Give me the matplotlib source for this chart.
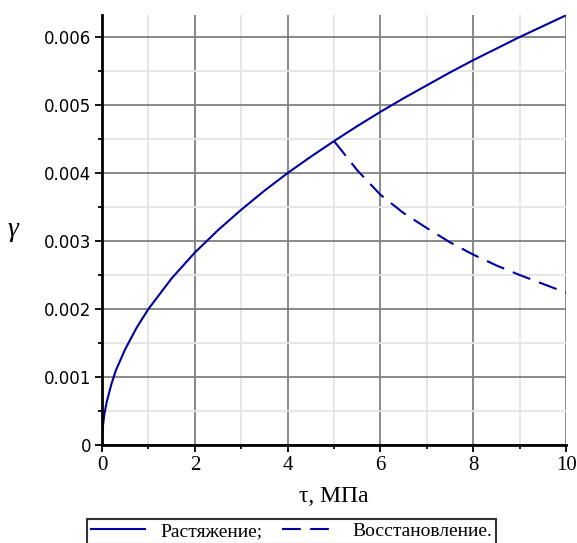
import matplotlib.pyplot as plt
from matplotlib.ticker import MultipleLocator
import numpy as np

tau_load = [0, 0.005, 0.02, 0.05, 0.1, 0.2, 0.3, 0.5, 0.75, 1, 1.5, 2, 2.5, 3, 3.5, 4,
            4.5, 5, 5.5, 6, 6.5, 7, 7.5, 8, 8.5, 9, 9.5, 10]
gamma_load = [0, 0.00014, 0.00028, 0.00045, 0.00063, 0.00089, 0.0011, 0.00141, 0.00173,
              0.002, 0.00245, 0.00283, 0.00316, 0.00346, 0.00374, 0.004, 0.00424, 0.00447,
              0.00469, 0.0049, 0.0051, 0.00529, 0.00548, 0.00566, 0.00583, 0.006, 0.00616,
              0.00632]
tau_rec = [5, 5.5, 6, 6.5, 7, 7.5, 8, 8.5, 9, 9.5, 10]
gamma_rec = [0.00447, 0.00404, 0.00368, 0.00341, 0.00319, 0.00298, 0.0028, 0.00264,
             0.0025, 0.00237, 0.00224]
labels = ['Растяжение;', 'Восстановление.']
xticks = [0, 2, 4, 6, 8, 10]
yticks = [0, 0.001, 0.002, 0.003, 0.004, 0.005, 0.006]
ytick_labels = ['0', '0.001', '0.002', '0.003', '0.004', '0.005', '0.006']

plt.rcParams['font.family'] = ['Liberation Serif', 'DejaVu Serif']
color = '#0000a0'

fig = plt.figure(figsize=(5.77, 5.43), dpi=100)
ax = fig.add_axes([0.1768, 0.1805, 0.8043, 0.792])

ax.plot(tau_load, gamma_load, color=color, lw=1.5, label=labels[0])
ax.plot(tau_rec, gamma_rec, color=color, lw=1.5, dashes=(9, 4.5), label=labels[1])

ax.set_xlim(0, 10)
ax.set_ylim(0, 0.006325)
ax.xaxis.set_minor_locator(MultipleLocator(1))
ax.yaxis.set_minor_locator(MultipleLocator(0.0005))
ax.set_yticks(yticks)
ax.set_yticklabels(ytick_labels, family='DejaVu Sans', fontsize=12)
ax.set_xticks(xticks)
ax.set_xticklabels([str(t) for t in xticks], fontsize=15)

ax.grid(which='major', color='#808080', lw=1.3)
ax.grid(which='minor', color='#e4e4e4', lw=1.3)
ax.set_axisbelow(True)
ax.tick_params(which='major', length=5, width=1.3, pad=3)
ax.tick_params(which='minor', length=3, width=1.3)
for s in ['top', 'right']:
    ax.spines[s].set_visible(False)
for s in ['left', 'bottom']:
    ax.spines[s].set_linewidth(2)

ax.set_xlabel('τ, МПа', fontsize=17, labelpad=8)
ax.set_ylabel('γ', fontsize=20, rotation=0, style='italic', labelpad=22, va='center')

leg = fig.legend(loc='upper center', bbox_to_anchor=(0.505, 0.045), ncol=2, fontsize=14,
                 frameon=True, fancybox=False, edgecolor='black', handlelength=2.8,
                 borderpad=0.2, borderaxespad=0, columnspacing=1.0)
leg.get_frame().set_linewidth(1.5)

fig.savefig('out.png', dpi=100)
